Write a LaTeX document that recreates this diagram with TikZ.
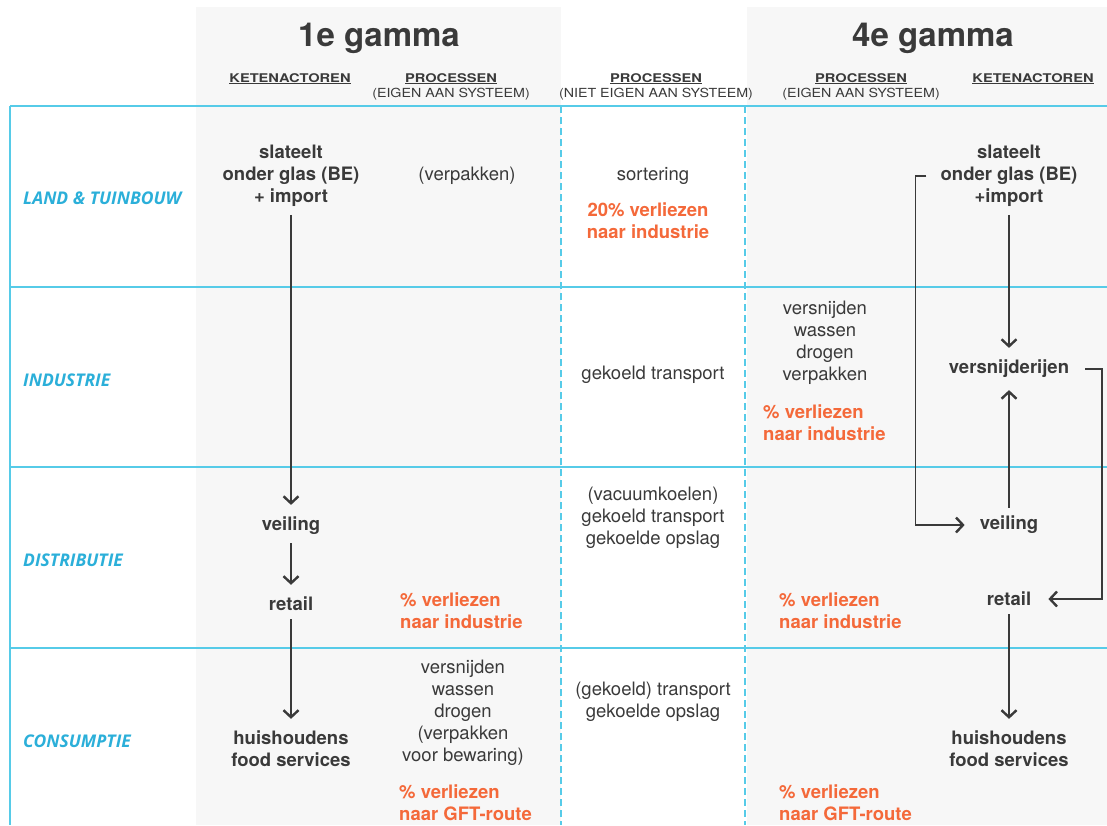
\documentclass[tikz,border=0pt]{standalone}
\usepackage{fontspec}
\setmainfont{TeX Gyre Heros}
\newfontfamily\rowfont{Open Sans}
\usetikzlibrary{arrows.meta}
\definecolor{lineblue}{RGB}{86,203,232}
\definecolor{rowblue}{RGB}{43,175,217}
\definecolor{panelgray}{RGB}{247,247,247}
\definecolor{txt}{RGB}{58,58,58}
\definecolor{orng}{RGB}{244,105,58}
\tikzset{
  panel/.style={fill=panelgray, draw=none},
  hline/.style={draw=lineblue, line width=1.5pt},
  dline/.style={draw=lineblue, line width=1.3pt, dash pattern=on 7pt off 4pt},
  rowlab/.style={anchor=west, inner sep=0pt, text=rowblue, font=\rowfont\bfseries\itshape\fontsize{17.5}{20}\selectfont},
  title/.style={anchor=base, inner sep=0pt, text=txt, font=\bfseries\fontsize{33}{36}\selectfont},
  colhead/.style={anchor=base, inner sep=0pt, text=txt, font=\bfseries\fontsize{12}{14}\selectfont},
  colsub/.style={anchor=base, inner sep=0pt, text=txt, font=\fontsize{12.5}{14}\selectfont},
  actor/.style={inner sep=0pt, align=center, text=txt, font=\bfseries\fontsize{18.5}{22}\selectfont},
  proc/.style={inner sep=0pt, align=center, text=txt, font=\fontsize{18.5}{22}\selectfont},
  loss/.style={inner sep=0pt, align=left, anchor=west, text=orng, font=\bfseries\fontsize{18.5}{22}\selectfont},
  arr/.style={draw=txt, line width=1.6pt, -{Straight Barb[length=7pt, width=15pt, line width=2.4pt]}, shorten <=8pt, shorten >=12pt},
}
\newcommand{\hdr}[1]{\scalebox{1.22}[1]{\underline{#1}}}
\newcommand{\sub}[1]{\scalebox{1.14}[1]{#1}}
\begin{document}
\begin{tikzpicture}[x=1pt, y=-1pt]
\useasboundingbox (0,0) rectangle (1107,825);
% panels
\fill[panel] (196,7) rectangle (561,825);
\fill[panel] (747,7) rectangle (1107,825);
% grid lines
\draw[hline] (10,106) -- (1107,106);
\draw[hline] (10,287) -- (1107,287);
\draw[hline] (10,467) -- (1107,467);
\draw[hline] (10,648) -- (1107,648);
\draw[hline] (10,106) -- (10,825);
\draw[dline] (561,106) -- (561,825);
\draw[dline] (745,106) -- (745,825);
% titles and column heads
\node[title] (t1) at (379,46.5) {1e gamma};
\node[title] (t4) at (933,46.5) {4e gamma};
\node[colhead] (k1) at (290,82) {\hdr{KETENACTOREN}};
\node[colhead] (p1) at (451,82) {\hdr{PROCESSEN}};
\node[colsub] (e1) at (451,97) {\sub{(EIGEN AAN SYSTEEM)}};
\node[colhead] (p2) at (656,82) {\hdr{PROCESSEN}};
\node[colsub] (e2) at (656,97) {\sub{(NIET EIGEN AAN SYSTEEM)}};
\node[colhead] (p3) at (861,82) {\hdr{PROCESSEN}};
\node[colhead] (k2) at (1033,82) {\hdr{KETENACTOREN}};
\node[colsub] (e3) at (861,97) {\sub{(EIGEN AAN SYSTEEM)}};
% row labels
\node[rowlab] (r1) at (23,198) {LAND \& TUINBOUW};
\node[rowlab] (r2) at (23,380) {INDUSTRIE};
\node[rowlab] (r3) at (23,560) {DISTRIBUTIE};
\node[rowlab] (r4) at (23,741) {CONSUMPTIE};
% 1e gamma actors
\node[actor] (s1) at (291,176) {slateelt\\onder glas (BE)\\+ import};
\node[actor] (v1) at (291,526) {veiling};
\node[actor] (re1) at (291,604) {retail};
\node[actor] (h1) at (291,749) {huishoudens\\food services};
% 1e gamma processes
\node[proc] (pa) at (467,176) {(verpakken)};
\node[loss] (la) at (400,611) {\% verliezen\\naar industrie};
\node[proc] (pb) at (463,713) {versnijden\\wassen\\drogen\\(verpakken\\voor bewaring)};
\node[loss] (lb) at (399,803) {\% verliezen\\naar GFT-route};
% middle processes
\node[proc] (m1) at (653,176) {sortering};
\node[proc, text=orng, font=\bfseries\fontsize{18.5}{22}\selectfont] (ml) at (648,221) {20\% verliezen\\naar industrie};
\node[proc] (m2) at (653,375) {gekoeld transport};
\node[proc] (m3) at (653,518) {(vacuumkoelen)\\gekoeld transport\\gekoelde opslag};
\node[proc] (m4) at (653,702) {(gekoeld) transport\\gekoelde opslag};
% 4e gamma processes
\node[proc] (q1) at (825,342.5) {versnijden\\wassen\\drogen\\verpakken};
\node[loss] (lq1) at (763,423) {\% verliezen\\naar industrie};
\node[loss] (lq2) at (779,611) {\% verliezen\\naar industrie};
\node[loss] (lq3) at (779,803) {\% verliezen\\naar GFT-route};
% 4e gamma actors
\node[actor] (s5) at (1009,176) {slateelt\\onder glas (BE)\\+import};
\node[actor] (vs) at (1009,369) {versnijderijen};
\node[actor] (v5) at (1009,525) {veiling};
\node[actor] (re5) at (1009,599) {retail};
\node[actor] (h5) at (1009,749) {huishoudens\\food services};
% arrows 1e gamma
\draw[arr] (s1.south) -- (v1.north);
\draw[arr] (v1.south) -- (re1.north);
\draw[arr] (re1.south) -- (h1.north);
% arrows 4e gamma
\draw[arr] (s5.south) -- (vs.north);
\draw[arr] (v5.north) -- (vs.south);
\draw[arr] (re5.south) -- (h5.north);
\draw[arr, shorten <=14pt, shorten >=15pt] (s5.west) -- ++(-25,0) |- (v5.west);
\draw[arr, shorten <=16pt, shorten >=17pt] (vs.east) -- ++(33,0) |- (re5.east);
\end{tikzpicture}
\end{document}
